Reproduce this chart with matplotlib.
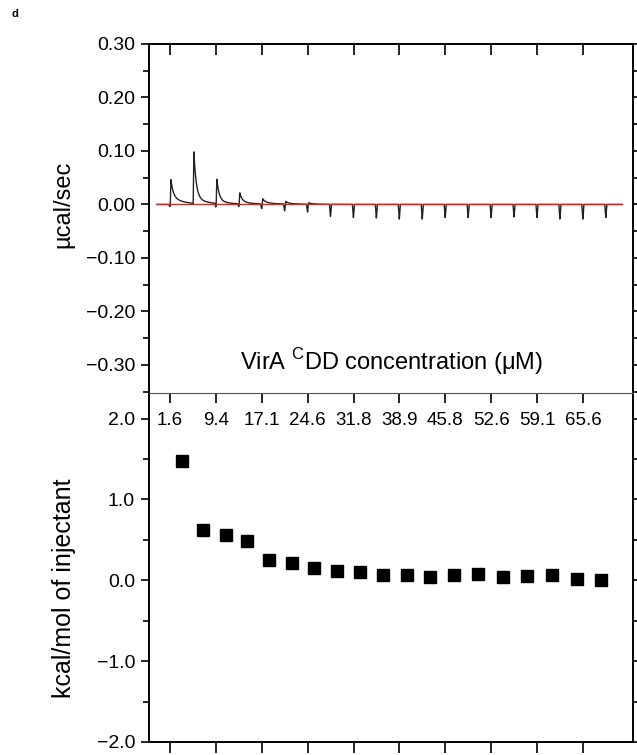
import numpy as np
import matplotlib
matplotlib.use("Agg")
import matplotlib.pyplot as plt
from matplotlib.ticker import MultipleLocator, FuncFormatter

plt.rcParams['font.family'] = ['Liberation Sans', 'DejaVu Sans']
plt.rcParams['mathtext.fontset'] = 'custom'
plt.rcParams['mathtext.rm'] = 'Liberation Sans'

# ---------------- data ----------------
# raw ITC thermogram: one entry per injection (injection number 1..20)
inj_number = np.arange(1, 21)
peak_fast = [0.032, 0.086, 0.040, 0.016, 0.006, 0.003, 0.002, 0.0, 0.0, 0.0,
             0.0, 0.0, 0.0, 0.0, 0.0, 0.0, 0.0, 0.0, 0.0, 0.0]
peak_tail = [0.015, 0.012, 0.006, 0.005, 0.004, 0.002, 0.001, 0.0, 0.0, 0.0,
             0.0, 0.0, 0.0, 0.0, 0.0, 0.0, 0.0, 0.0, 0.0, 0.0]
dip_depth = [-0.004, -0.002, -0.007, -0.005, -0.009, -0.013, -0.015, -0.023, -0.025, -0.026,
             -0.028, -0.028, -0.025, -0.025, -0.025, -0.024, -0.025, -0.028, -0.028, -0.025]
trace_start, trace_end = 0.43, 20.7

# concentration tick labels (at every second injection)
conc_tick_pos = [1, 3, 5, 7, 9, 11, 13, 15, 17, 19]
conc_labels = ['1.6', '9.4', '17.1', '24.6', '31.8', '38.9', '45.8', '52.6', '59.1', '65.6']

# integrated heats
square_x = [1.54, 2.45, 3.43, 4.37, 5.33, 6.31, 7.29, 8.28, 9.28, 10.30,
            11.32, 12.33, 13.38, 14.41, 15.50, 16.55, 17.64, 18.73, 19.78]
heat_kcal = [1.47, 0.62, 0.56, 0.48, 0.25, 0.21, 0.15, 0.12, 0.10, 0.07,
             0.06, 0.04, 0.06, 0.08, 0.04, 0.05, 0.06, 0.01, 0.00]

# ---------------- figure ----------------
W_PX, H_PX = 637, 755
fig = plt.figure(figsize=(W_PX / 100, H_PX / 100), dpi=100)
left = 149 / W_PX
right = 633 / W_PX
top1 = 1 - 44 / H_PX
mid = 1 - 392.7 / H_PX
bot = 1 - 742 / H_PX
ax1 = fig.add_axes([left, mid, right - left, top1 - mid])
ax2 = fig.add_axes([left, bot, right - left, mid - bot])

xlim = (0.085, 21.18)
TICK_FS = 14
LABEL_FS = 17

# thermogram trace built from the per-injection readings
t = np.arange(trace_start, trace_end, 0.004)
y = np.zeros_like(t)
for n, pf, pt, d in zip(inj_number, peak_fast, peak_tail, dip_depth):
    dt = t - n
    y += d * np.clip(1 - np.abs(dt + 0.005) / 0.045, 0, None)
    rise = (dt >= 0.01) & (dt < 0.04)
    y[rise] += (pf + pt) * (dt[rise] - 0.01) / 0.03
    dec = dt >= 0.04
    y[dec] += pf * np.exp(-(dt[dec] - 0.04) / 0.10) + pt * np.exp(-(dt[dec] - 0.04) / 0.50)

ax1.plot(t, y, color='#222222', lw=1.0, zorder=2)
ax1.plot([trace_start, trace_end], [0, 0], color='#e5202a', lw=1.0, zorder=3)

ax1.set_xlim(*xlim)
ax1.set_ylim(-0.352, 0.30)
ax1.set_xticks(conc_tick_pos)
ax1.tick_params(axis='x', which='both', top=True, bottom=False, labelbottom=False,
                direction='in', length=8, width=1.2)
ax1.yaxis.set_major_locator(MultipleLocator(0.1))
ax1.yaxis.set_minor_locator(MultipleLocator(0.05))
ax1.yaxis.set_major_formatter(FuncFormatter(lambda v, p: ('%.2f' % v).replace('-', '\u2212')))
ax1.tick_params(axis='y', which='both', left=True, right=True, direction='out',
                width=1.2, labelsize=TICK_FS, pad=4)
ax1.tick_params(axis='y', which='major', length=6)
ax1.tick_params(axis='y', which='minor', length=4.5)
ax1.set_ylabel('\u00b5cal/sec', fontsize=LABEL_FS)
ax1.yaxis.set_label_coords(-0.155, 0.54)
ax1.text(0.5, 0.088, 'VirA $^{\\mathrm{C}}$DD concentration (\u03bcM)', transform=ax1.transAxes,
         ha='center', va='center', fontsize=17)

for s in ['left', 'right', 'top']:
    ax1.spines[s].set_linewidth(1.4)
ax1.spines['bottom'].set_visible(False)

# lower panel
ax2.plot(square_x, heat_kcal, linestyle='none', marker='s', markersize=8, color='black')
ax2.set_xlim(*xlim)
ax2.set_ylim(-2.0, 2.32)
ax2.set_xticks(conc_tick_pos)
ax2.tick_params(axis='x', which='both', bottom=True, top=False, labelbottom=False,
                direction='out', length=8, width=1.2)
ax2.yaxis.set_major_locator(MultipleLocator(1.0))
ax2.yaxis.set_minor_locator(MultipleLocator(0.5))
ax2.yaxis.set_major_formatter(FuncFormatter(lambda v, p: ('%.1f' % v).replace('-', '\u2212')))
ax2.tick_params(axis='y', which='both', left=True, right=True, direction='out',
                width=1.2, labelsize=TICK_FS, pad=4)
ax2.tick_params(axis='y', which='major', length=6)
ax2.tick_params(axis='y', which='minor', length=4.5)
ax2.set_ylabel('kcal/mol of injectant', fontsize=LABEL_FS + 1)
ax2.yaxis.set_label_coords(-0.151, 0.44)
for s in ['left', 'right', 'bottom']:
    ax2.spines[s].set_linewidth(1.4)
ax2.spines['top'].set_linewidth(0.8)
ax2.spines['top'].set_color('#555555')

sec = ax2.secondary_xaxis('top')
sec.set_xticks(conc_tick_pos, labels=conc_labels)
sec.tick_params(axis='x', direction='in', length=7, width=1.2, labelsize=13.5, pad=-26)
sec.spines['top'].set_visible(False)

fig.text(12 / W_PX, 1 - 14 / H_PX, 'd', fontweight='bold', fontsize=8, ha='left', va='center')

fig.savefig('out.png', dpi=100)
